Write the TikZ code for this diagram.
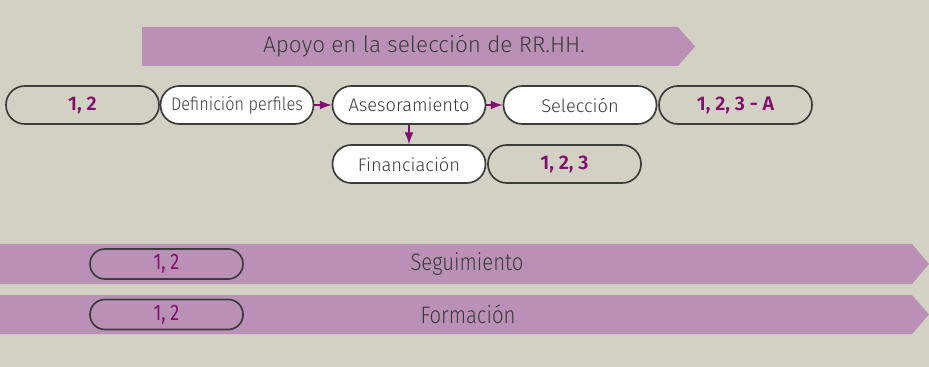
\documentclass[tikz,border=0pt]{standalone}
\usepackage{fontspec}
\setmainfont{Fira Sans}[UprightFont={* Light},BoldFont={* SemiBold}]
\newfontfamily\estrecha{Fira Sans}[FakeStretch=0.8]
\usepackage{tikz}
\usetikzlibrary{arrows}
\definecolor{fondo}{HTML}{D3D1C3}
\definecolor{banda}{HTML}{BA90B6}
\definecolor{morado}{HTML}{80106F}
\definecolor{texto}{HTML}{3C3C3C}

\begin{document}
\begin{tikzpicture}[x=0.25mm, y=-0.25mm,
  pill/.style={draw=texto, line width=0.42mm, rounded corners=4.7mm, minimum width=38.25mm, minimum height=9.5mm, inner sep=0pt, text=texto, font=\fontsize{13}{15}\selectfont},
  blanco/.style={pill, fill=white},
  numero/.style={pill, text=morado, font=\fontsize{14}{16}\selectfont\bfseries},
  chico/.style={pill, rounded corners=3.7mm, minimum height=7.5mm, text=morado, font=\estrecha\fontsize{16}{18}\selectfont},
  titulo/.style={text=texto, font=\fontsize{16}{18}\selectfont},
  textobanda/.style={text=texto, font=\fontsize{17}{19}\selectfont\addfontfeature{FakeStretch=0.85}}]

\useasboundingbox [fill=fondo] (0,0) rectangle (929,367);

% Bandas
\fill[banda] (142,27) -- (678,27) -- (695,46.5) -- (678,66) -- (142,66) -- cycle;
\fill[banda] (0,244) -- (912,244) -- (929,264) -- (912,284) -- (0,284) -- cycle;
\fill[banda] (0,295) -- (912,295) -- (929,314.5) -- (912,334) -- (0,334) -- cycle;

\path
  node[titulo] (apoyo) at (424,46.5) {Apoyo en la selección de RR.HH.}
  node[numero] (num1) at (82.5,105) {1, 2}
  node[blanco] (definicion) at (237,105) {\addfontfeature{FakeStretch=0.89}Definición perfiles}
  node[blanco] (asesoramiento) at (409,105) {Asesoramiento}
  node[blanco] (seleccion) at (580,105) {Selección}
  node[numero] (num4) at (735.5,105) {1, 2, 3 - A}
  node[blanco] (financiacion) at (409,164) {Financiación}
  node[numero] (num3) at (564.5,164) {1, 2, 3}
  node[chico] (numseg) at (166.5,264) {1, 2}
  node[textobanda] (seguimiento) at (467,264) {Seguimiento}
  node[chico] (numform) at (166.5,314.5) {1, 2}
  node[textobanda] (formacion) at (468,314.5) {Formación};

\begin{scope}[->,>=latex,morado,line width=0.65mm]
	\draw (definicion.east) -- (asesoramiento.west);
	\draw (asesoramiento.east) -- (seleccion.west);
	\draw (asesoramiento.south) -- (financiacion.north);
\end{scope}

\end{tikzpicture}
\end{document}
